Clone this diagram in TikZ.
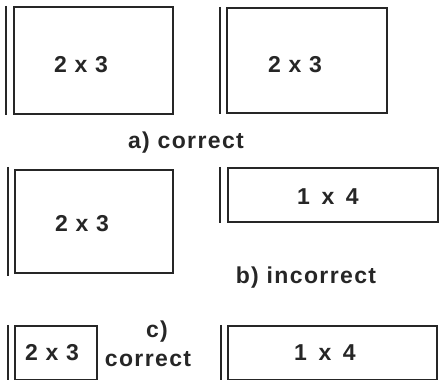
\documentclass[tikz,border=0pt]{standalone}
\usepackage{fontspec}
\setmainfont{Liberation Sans}[LetterSpace=6]
\begin{document}
\begin{tikzpicture}[x=1pt,y=-1pt,
  panel/.style={draw=black!85, line width=2.2pt, inner sep=0pt},
  bar/.style={draw=black!85, line width=2.2pt},
  lbl/.style={font=\fontsize{23}{26}\selectfont\bfseries, inner sep=0pt, text=black!85},
]
\useasboundingbox (0,0) rectangle (440,380);
% a) top row
\node[panel, minimum width=159pt, minimum height=107pt] (a1) at (93.5,60.5) {};
\draw[bar] ([xshift=-7pt]a1.north west) -- ([xshift=-7pt]a1.south west);
\node[lbl] (ta1) at (81,65) {2 x 3};
\node[panel, minimum width=160pt, minimum height=105pt] (a2) at (307,60.5) {};
\draw[bar] ([xshift=-6pt]a2.north west) -- ([xshift=-6pt]a2.south west);
\node[lbl] (ta2) at (295,65) {2 x 3};
\node[lbl] (la) at (186,143) {a) correct};
% b) middle row
\node[panel, minimum width=158pt, minimum height=103pt] (b1) at (94,221.5) {};
\draw[bar] ([xshift=-6pt,yshift=2pt]b1.north west) -- ([xshift=-6pt,yshift=-2pt]b1.south west);
\node[lbl] (tb1) at (82,224) {2 x 3};
\node[panel, minimum width=210pt, minimum height=54pt] (b2) at (333,195) {};
\draw[bar] ([xshift=-7pt]b2.north west) -- ([xshift=-7pt]b2.south west);
\node[lbl] (tb2) at (328,197) {1\, x\, 4};
\node[lbl] (lb) at (306,278) {b) incorrect};
% c) bottom row
\node[panel, minimum width=82pt, minimum height=54pt] (c1) at (56,353) {};
\draw[bar] ([xshift=-6pt]c1.north west) -- ([xshift=-6pt]c1.south west);
\node[lbl] (tc1) at (52,353) {2 x 3};
\node[panel, minimum width=209pt, minimum height=54pt] (c2) at (332.5,353) {};
\draw[bar] ([xshift=-6pt]c2.north west) -- ([xshift=-6pt]c2.south west);
\node[lbl] (tc2) at (325,353) {1\, x\, 4};
\node[lbl] (lc) at (157,332) {c)};
\node[lbl] (lc2) at (148,359) {correct};
\end{tikzpicture}
\end{document}
